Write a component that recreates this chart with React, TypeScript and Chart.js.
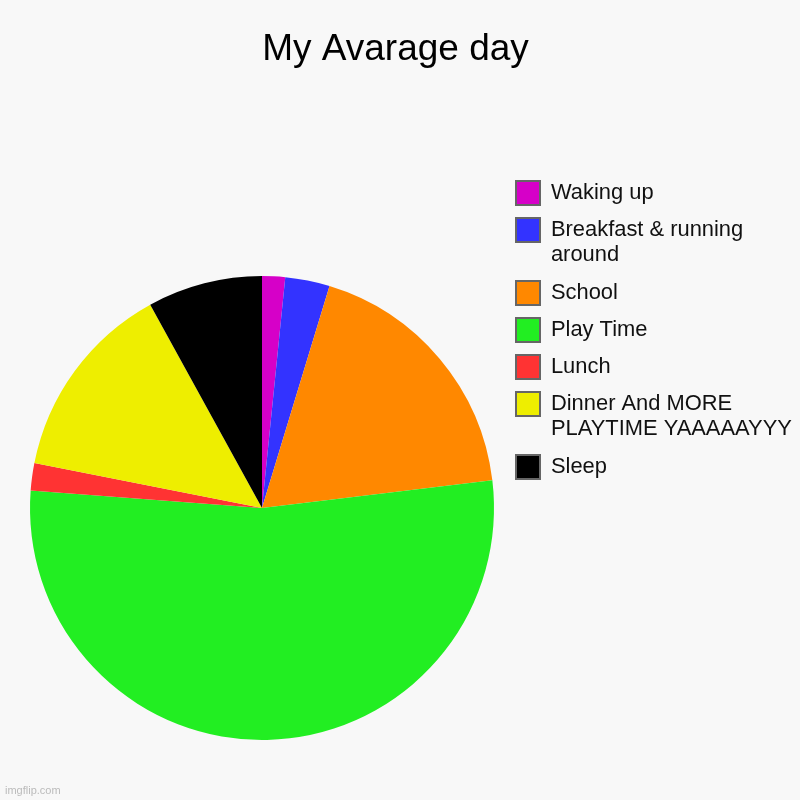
import { useEffect, useRef } from 'react';
import { Chart, registerables } from 'chart.js';
import type { Plugin } from 'chart.js';

Chart.register(...registerables);

const labels: (string | string[])[] = [
  'Waking up',
  ['Breakfast & running', 'around'],
  'School',
  'Play Time',
  'Lunch',
  ['Dinner And MORE', 'PLAYTIME YAAAAAYYY'],
  'Sleep',
];
const values = [1.6, 3.1, 18.4, 53.1, 1.9, 13.9, 8.0];
const colors = ['#d600c8', '#3333ff', '#ff8800', '#22ee22', '#ff3333', '#eeee00', '#000000'];

const FONT = '"Liberation Sans", Arial, sans-serif';

// the legend is kept narrow so the title centres like the original,
// then its clip box is widened so the long label is not cut off
const wideLegend: Plugin<'pie'> = {
  id: 'wideLegend',
  afterLayout(chart) {
    const legend = chart.legend;
    if (legend) {
      legend.right = chart.width;
      legend.width = legend.right - legend.left;
    }
  },
};

export default function App() {
  const canvasRef = useRef<HTMLCanvasElement | null>(null);

  useEffect(() => {
    document.body.style.margin = '0';
    document.body.style.background = '#f8f8f8';
    if (!canvasRef.current) {
      return;
    }

    const chart = new Chart(canvasRef.current, {
      type: 'pie',
      data: {
        labels,
        datasets: [
          {
            data: values,
            backgroundColor: colors,
            borderWidth: 0,
            hoverOffset: 0,
          },
        ],
      },
      plugins: [wideLegend],
      options: {
        animation: false,
        responsive: false,
        events: [],
        layout: { padding: { left: 21, right: 30, top: 0, bottom: 60 } },
        plugins: {
          tooltip: { enabled: false },
          title: {
            display: true,
            text: 'My Avarage day',
            color: '#000',
            font: { family: FONT, size: 37, weight: 'normal', lineHeight: 1.2 },
            padding: { top: 28, bottom: 203.6 },
          },
          legend: {
            position: 'right',
            align: 'start',
            maxWidth: 267,
            title: {
              display: true,
              text: ' ',
              padding: { top: 0, bottom: 153.6 },
            },
            labels: {
              boxWidth: 24,
              boxHeight: 24,
              padding: 13,
              color: '#111',
              font: { family: FONT, size: 21.9, lineHeight: 1.142 },
              generateLabels: (c) =>
                Chart.overrides.pie.plugins.legend.labels.generateLabels(c).map((item) => ({
                  ...item,
                  strokeStyle: '#666',
                  lineWidth: 2,
                })),
            },
          },
        },
      },
    });

    return () => {
      chart.destroy();
    };
  }, []);

  return (
    <div style={{ position: 'relative', width: 800, height: 800, background: '#f8f8f8' }}>
      <canvas ref={canvasRef} width={800} height={800} style={{ display: 'block' }} />
      <div
        style={{
          position: 'absolute',
          left: 5,
          top: 784,
          fontFamily: FONT,
          fontSize: 11,
          color: '#bbb',
        }}
      >
        imgflip.com
      </div>
    </div>
  );
}
